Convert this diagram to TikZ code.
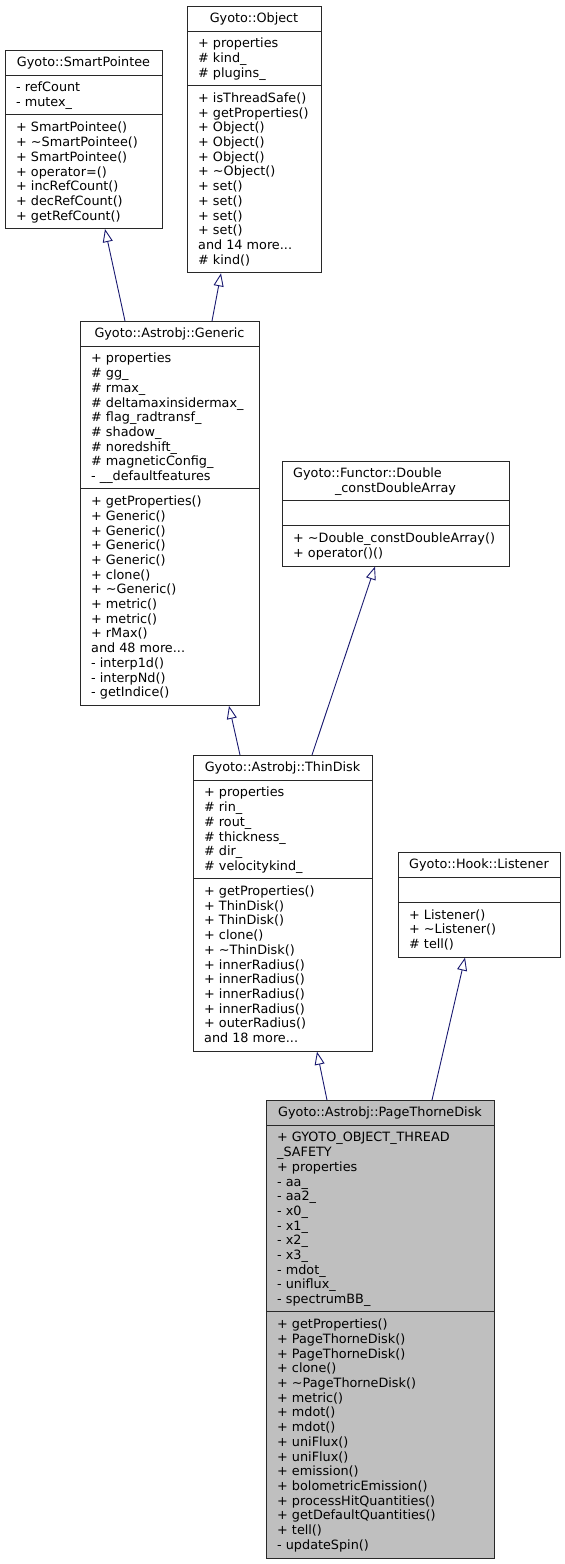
\documentclass[tikz,border=0pt]{standalone}
\usepackage{fontspec}
\setmainfont{DejaVu Sans}
\usetikzlibrary{calc,arrows.meta}
\definecolor{midnight}{RGB}{25,25,112}
\definecolor{boxgray}{RGB}{191,191,191}
\definecolor{edge}{RGB}{40,40,40}
\newcommand\tdots{...}
\newcommand\rows[4]{\foreach \t [count=\i] in {#4} {\node[txt] (#1-\i) at (#2,{#3+(\i-1)*14.7}) {\t};}}
\newcommand\seps[3]{\draw[boxline] ($(#1.north west)+(0,#2)$) -- ($(#1.north east)+(0,#2)$);
  \draw[boxline] ($(#1.north west)+(0,#3)$) -- ($(#1.north east)+(0,#3)$);}
\begin{document}
\begin{tikzpicture}[x=1pt,y=-1pt,
  classbox/.style={draw=edge, line width=0.9pt, fill=white, rectangle, inner sep=0pt, anchor=north west},
  boxline/.style={draw=edge, line width=0.9pt},
  txt/.style={inner sep=0pt, anchor=base west, font=\fontsize{12.8}{14.7}\selectfont},
  ttl/.style={inner sep=0pt, anchor=base, font=\fontsize{12.8}{14.7}\selectfont},
  inh/.style={draw=midnight, line width=0.9pt, -{Triangle[open, length=13pt, width=10pt, fill=white]}}]
\useasboundingbox (0,0) rectangle (565,1564);

% SmartPointee
\node[classbox, minimum width=157pt, minimum height=178.2pt] (sp) at (5,50) {};
\seps{sp}{25.1}{64.9}
\node[ttl] (sp-t) at (83.5,66.85) {Gyoto::SmartPointee};
\rows{spa}{16}{91.95}{- refCount, - mutex\_}
\rows{spm}{16}{131.95}{+ SmartPointee(), + \textasciitilde{}SmartPointee(), + SmartPointee(), + operator=(), + incRefCount(), + decRefCount(), + getRefCount()}

% Object
\node[classbox, minimum width=134pt, minimum height=266.4pt] (obj) at (187,6) {};
\seps{obj}{25.1}{79.6}
\node[ttl] (obj-t) at (254,22.85) {Gyoto::Object};
\rows{obja}{198}{47.95}{+ properties, \# kind\_, \# plugins\_}
\rows{objm}{198}{102.45}{+ isThreadSafe(), + getProperties(), + Object(), + Object(), + Object(), + \textasciitilde{}Object(), + set(), + set(), + set(), + set(), and 14 more\tdots, \# kind()}

% Generic
\node[classbox, minimum width=179pt, minimum height=384pt] (gen) at (80,321) {};
\seps{gen}{25.1}{167.8}
\node[ttl] (gen-t) at (169.5,337.85) {Gyoto::Astrobj::Generic};
\rows{gena}{91}{362.95}{+ properties, \# gg\_, \# rmax\_, \# deltamaxinsidermax\_, \# flag\_radtransf\_, \# shadow\_, \# noredshift\_, \# magneticConfig\_, - \_\_defaultfeatures}
\rows{genm}{91}{505.65}{+ getProperties(), + Generic(), + Generic(), + Generic(), + Generic(), + clone(), + \textasciitilde{}Generic(), + metric(), + metric(), + rMax(), and 48 more\tdots, - interp1d(), - interpNd(), - getIndice()}

% Functor
\node[classbox, minimum width=227pt, minimum height=104.7pt] (fun) at (282,461) {};
\seps{fun}{39.8}{64.9}
\node[txt] (fun-t1) at (293,477.85) {Gyoto::Functor::Double};
\node[ttl] (fun-t2) at (395.5,492.55) {\_constDoubleArray};
\rows{funm}{293}{542.75}{+ \textasciitilde{}Double\_constDoubleArray(), + operator()()}

% ThinDisk
\node[classbox, minimum width=179pt, minimum height=295.8pt] (td) at (193,755) {};
\seps{td}{25.1}{123.7}
\node[ttl] (td-t) at (282.5,771.85) {Gyoto::Astrobj::ThinDisk};
\rows{tda}{204}{796.95}{+ properties, \# rin\_, \# rout\_, \# thickness\_, \# dir\_, \# velocitykind\_}
\rows{tdm}{204}{895.55}{+ getProperties(), + ThinDisk(), + ThinDisk(), + clone(), + \textasciitilde{}ThinDisk(), + innerRadius(), + innerRadius(), + innerRadius(), + innerRadius(), + outerRadius(), and 18 more\tdots}

% Listener
\node[classbox, minimum width=162pt, minimum height=104.7pt] (lis) at (398,852) {};
\seps{lis}{25.1}{50.2}
\node[ttl] (lis-t) at (479,868.85) {Gyoto::Hook::Listener};
\rows{lism}{409}{919.05}{+ Listener(), + \textasciitilde{}Listener(), \# tell()}

% PageThorneDisk
\node[classbox, fill=boxgray, minimum width=228pt, minimum height=457.5pt] (ptd) at (266,1100) {};
\seps{ptd}{25.1}{211.9}
\node[ttl] (ptd-t) at (380,1116.85) {Gyoto::Astrobj::PageThorneDisk};
\rows{ptda}{277}{1141.95}{+ GYOTO\_OBJECT\_THREAD, \_SAFETY, + properties, - aa\_, - aa2\_, - x0\_, - x1\_, - x2\_, - x3\_, - mdot\_, - uniflux\_, - spectrumBB\_}
\rows{ptdm}{277}{1328.75}{+ getProperties(), + PageThorneDisk(), + PageThorneDisk(), + clone(), + \textasciitilde{}PageThorneDisk(), + metric(), + mdot(), + mdot(), + uniFlux(), + uniFlux(), + emission(), + bolometricEmission(), + processHitQuantities(), + getDefaultQuantities(), + tell(), - updateSpin()}

% inheritance edges
\draw[inh] ($(gen.north west)+(45,0)$) -- ($(sp.south west)+(100,0)$);
\draw[inh] ($(gen.north west)+(132,0)$) -- ($(obj.south west)+(34,0)$);
\draw[inh] ($(td.north west)+(47,0)$) -- ($(gen.south west)+(149,0)$);
\draw[inh] ($(td.north west)+(119,0)$) -- ($(fun.south west)+(93,0)$);
\draw[inh] ($(ptd.north west)+(61,0)$) -- ($(td.south west)+(124,0)$);
\draw[inh] ($(ptd.north west)+(166,0)$) -- ($(lis.south west)+(67,0)$);
\end{tikzpicture}
\end{document}
